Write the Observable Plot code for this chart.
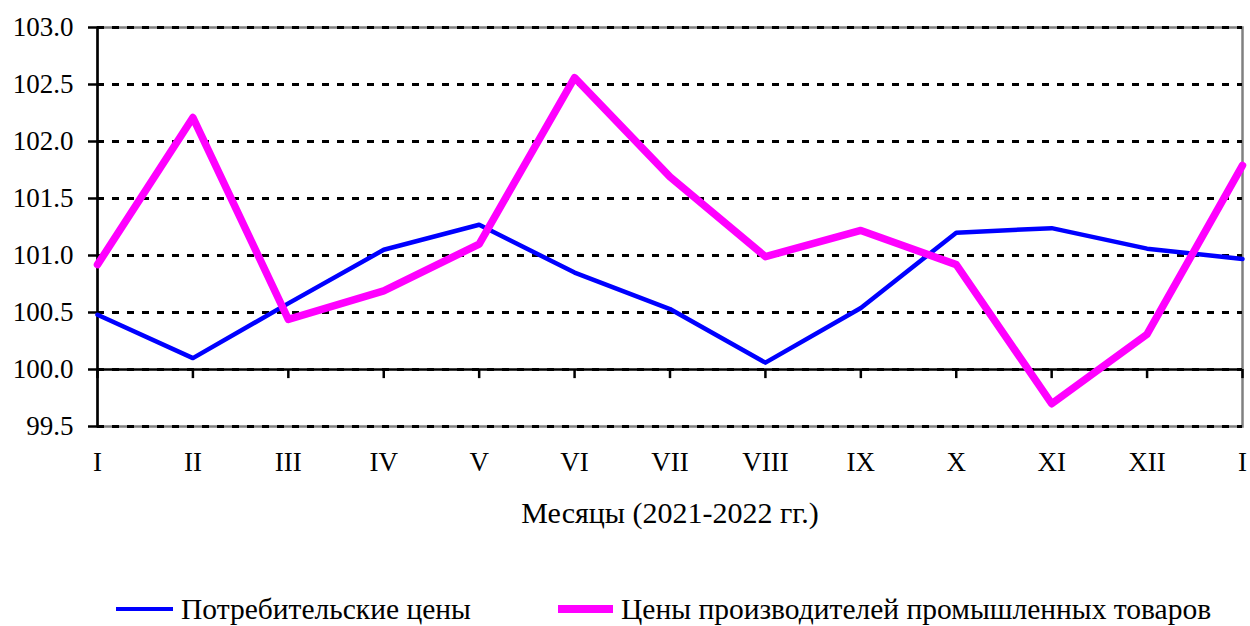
<!DOCTYPE html>
<html>
<head>
<meta charset="utf-8">
<script src="https://cdn.jsdelivr.net/npm/d3@7"></script>
<script src="https://cdn.jsdelivr.net/npm/@observablehq/plot@0.6"></script>
<style>
  body { margin: 0; background: #fff; font-family: 'Liberation Serif', 'DejaVu Serif', serif; }
  #wrap { position: relative; width: 1250px; height: 626px; }
  #legend { position: absolute; left: 0; top: 591px; width: 1250px; height: 36px; font-size: 29.5px; color: #000; }
  .item { position: absolute; display: flex; align-items: center; height: 36px; }
  .swatch { display: inline-block; margin-right: 8px; }
  svg text { font-family: 'Liberation Serif', 'DejaVu Serif', serif; }
</style>
</head>
<body>
<div id="wrap"><div id="chart"></div><div id="legend"></div></div>
<script>
const months = ["I","II","III","IV","V","VI","VII","VIII","IX","X","XI","XII","I"];
const consumer = [100.48,100.10,100.58,101.05,101.27,100.85,100.53,100.06,100.54,101.20,101.24,101.06,100.97];
const producer = [100.92,102.21,100.44,100.69,101.10,102.56,101.69,100.99,101.22,100.92,99.70,100.31,101.79];
const yTicks = [99.5,100.0,100.5,101.0,101.5,102.0,102.5,103.0];
const seriesNames = ["Потребительские цены","Цены производителей промышленных товаров"];
const seriesColors = ["#0000FF","#FF00FF"];
const xTitle = "Месяцы (2021-2022 гг.)";

const idx = months.map((_, i) => i);
const rows = s => idx.map(i => ({i, v: s[i]}));

const chart = Plot.plot({
  width: 1250,
  height: 545,
  marginTop: 27,
  marginLeft: 97,
  marginRight: 8,
  marginBottom: 119,
  style: {fontFamily: "'Liberation Serif', 'DejaVu Serif', serif", fontSize: "27px", color: "#000", overflow: "visible"},
  x: {domain: [0, 12]},
  y: {domain: [99.5, 103]},
  marks: [
    Plot.frame({stroke: "#808080", strokeWidth: 2.5}),
    Plot.gridY(yTicks, {stroke: "#000", strokeOpacity: 1, strokeWidth: 3, strokeDasharray: "7,8"}),
    Plot.ruleY([100], {stroke: "#000", strokeWidth: 2.5}),
    Plot.ruleX(idx, {x: d => d, y1: 100, y2: 99.92, stroke: "#000", strokeWidth: 2.5}),
    Plot.ruleX([0], {stroke: "#000", strokeWidth: 2.5}),
    Plot.axisY({ticks: yTicks, tickFormat: d3.format(".1f"), tickSize: 9, tickPadding: 15, fontSize: 27, strokeWidth: 2.5, label: null}),
    Plot.axisX({ticks: idx, tickFormat: i => months[i], tickSize: 0, tickPadding: 25, fontSize: 27, label: null}),
    Plot.axisX({ticks: [], tickSize: 0, fontSize: 30,
      label: xTitle, labelAnchor: "center", labelOffset: 96, labelArrow: "none"}),
    Plot.line(rows(consumer), {x: "i", y: "v", stroke: seriesColors[0], strokeWidth: 4.5, strokeLinejoin: "round"}),
    Plot.line(rows(producer), {x: "i", y: "v", stroke: seriesColors[1], strokeWidth: 7.5, strokeLinejoin: "round"})
  ]
});
document.getElementById("chart").appendChild(chart);

const legend = document.getElementById("legend");
const legendPos = [{left: 116, w: 57, h: 4.5}, {left: 558, w: 55, h: 8}];
seriesNames.forEach((name, k) => {
  const it = document.createElement("div");
  it.className = "item";
  it.style.left = legendPos[k].left + "px";
  const sw = document.createElement("span");
  sw.className = "swatch";
  sw.style.width = legendPos[k].w + "px";
  sw.style.height = legendPos[k].h + "px";
  sw.style.background = seriesColors[k];
  const tx = document.createElement("span");
  tx.textContent = name;
  it.appendChild(sw); it.appendChild(tx);
  legend.appendChild(it);
});
</script>
</body>
</html>
